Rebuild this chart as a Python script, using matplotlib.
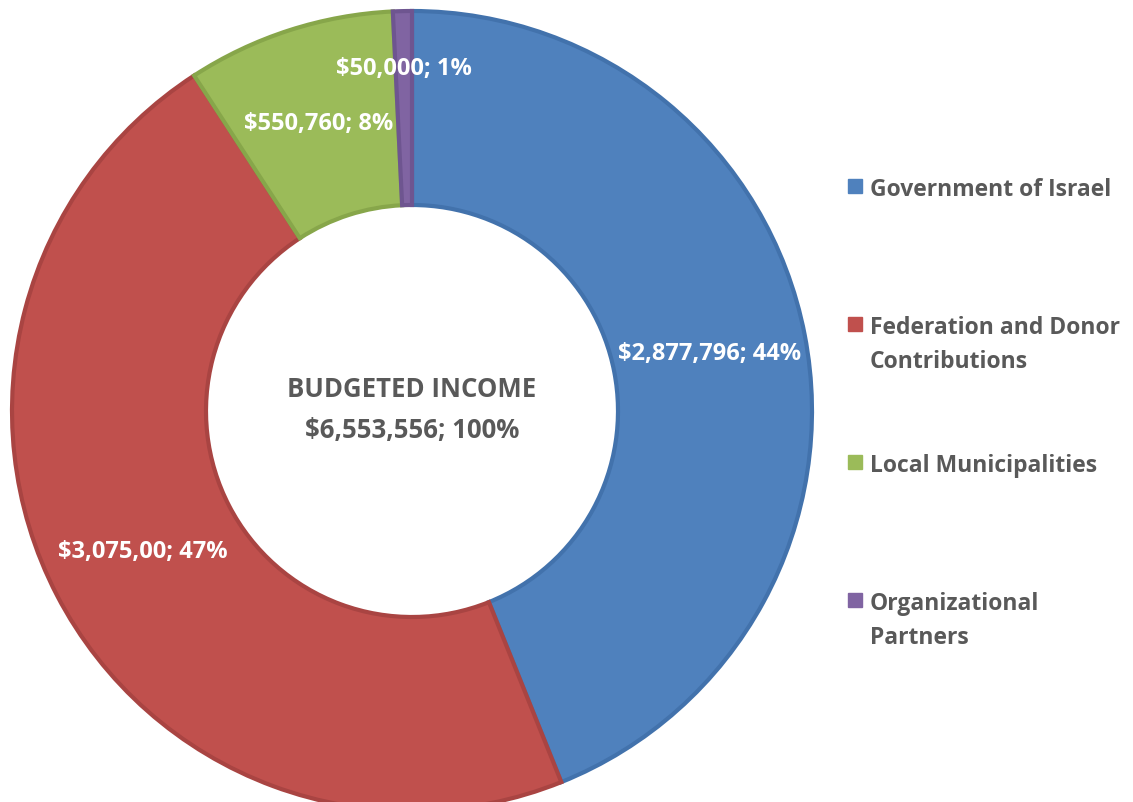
import numpy as np
import matplotlib.pyplot as plt

''' budgeted income donut chart '''

plt.rcParams['font.family'] = ['Open Sans', 'DejaVu Sans']

sources = ['Government of Israel', 'Federation and Donor\nContributions',
           'Local Municipalities', 'Organizational\nPartners']
amounts = [2877796, 3075000, 550760, 50000]
value_labels = ['$2,877,796; 44%', '$3,075,00; 47%', '$550,760; 8%', '$50,000; 1%']
center_title = 'BUDGETED INCOME\n$6,553,556; 100%'

colors = ['#4F81BD', '#C0504D', '#9BBB59', '#8064A2']
edges = ['#4272AC', '#A94442', '#87A64A', '#6E5590']

W, H = 1133, 803
fig = plt.figure(figsize=(W / 100, H / 100), dpi=100)
ax = fig.add_axes([0, 0, 1, 1])

cx, cy = 412, H - 412
r_out, r_in = 400, 206

wedges, _ = ax.pie(amounts, radius=r_out, center=(cx, cy), startangle=90,
                   counterclock=False, colors=colors,
                   wedgeprops=dict(width=r_out - r_in, linewidth=3))
for w, e in zip(wedges, edges):
    w.set_edgecolor(e)
    w.set_joinstyle('miter')

# data labels at the middle of the ring, small slice pushed out a bit
r_mid = (r_out + r_in) / 2
for i, (w, txt) in enumerate(zip(wedges, value_labels)):
    ang = np.deg2rad((w.theta1 + w.theta2) / 2)
    rr = r_mid + (40 if amounts[i] < 100000 else 0)
    ax.text(cx + rr * np.cos(ang), cy + rr * np.sin(ang), txt, color='white',
            fontsize=17, fontweight='bold', ha='center', va='center')

ax.text(cx, cy + 2, center_title, color='#595959', fontsize=18.5, fontweight='bold',
        ha='center', va='center', linespacing=1.65)

# legend drawn by hand so the rows keep an even step
leg_y = H - 187
for i, (name, c) in enumerate(zip(sources, colors)):
    y = leg_y - i * 138
    ax.plot(855, y, marker='s', markersize=10, color=c, markeredgecolor=c)
    ax.text(870, y + 9, name, color='#595959', fontsize=16.5, fontweight='bold',
            ha='left', va='top', linespacing=1.54)

ax.set_xlim(0, W)
ax.set_ylim(0, H)
ax.set_aspect('equal')
ax.axis('off')
fig.savefig('out.png', dpi=100)
